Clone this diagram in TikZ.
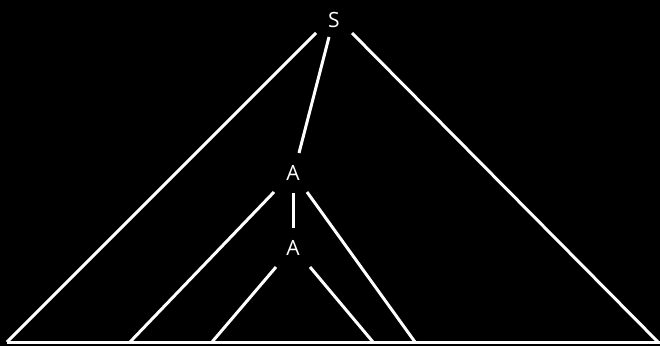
\documentclass[tikz,border=0pt]{standalone}
\usepackage{fontspec}
\setmainfont{Open Sans}
\begin{document}
\begin{tikzpicture}[x=1pt,y=-1pt,
  edge/.style={draw=white,line width=3pt},
  lbl/.style={text=white,font=\fontsize{21}{21}\selectfont,inner sep=1pt}]
\fill[black] (0,0) rectangle (660,346);
\useasboundingbox (0,0) rectangle (660,346);
\node[lbl] (S) at (334,20) {S};
\node[lbl] (A1) at (293,173) {A};
\node[lbl] (A2) at (293,248) {A};
% start points
\coordinate (s1) at (316,33);
\coordinate (s2) at (329,37);
\coordinate (s3) at (352,33);
\coordinate (a1l) at (274,192);
\coordinate (a1r) at (307,192);
\coordinate (a1d) at (293,193);
\coordinate (a2t) at (293,228);
\coordinate (a1t) at (299,153);
\coordinate (a2l) at (276,267);
\coordinate (a2r) at (310,267);
% bottom points
\coordinate (b0) at (7,342);
\coordinate (b1) at (130,342);
\coordinate (b2) at (212,342);
\coordinate (b3) at (373,342);
\coordinate (b4) at (415,342);
\coordinate (b5) at (658,342);
\coordinate (bend) at (660,342);
\draw[edge] (s1) -- (b0);
\draw[edge] (s3) -- (b5);
\draw[edge] (s2) -- (a1t);
\draw[edge] (a1l) -- (b1);
\draw[edge] (a1r) -- (b4);
\draw[edge] (a1d) -- (a2t);
\draw[edge] (a2l) -- (b2);
\draw[edge] (a2r) -- (b3);
\draw[edge] (b0) -- (bend);
\end{tikzpicture}
\end{document}
